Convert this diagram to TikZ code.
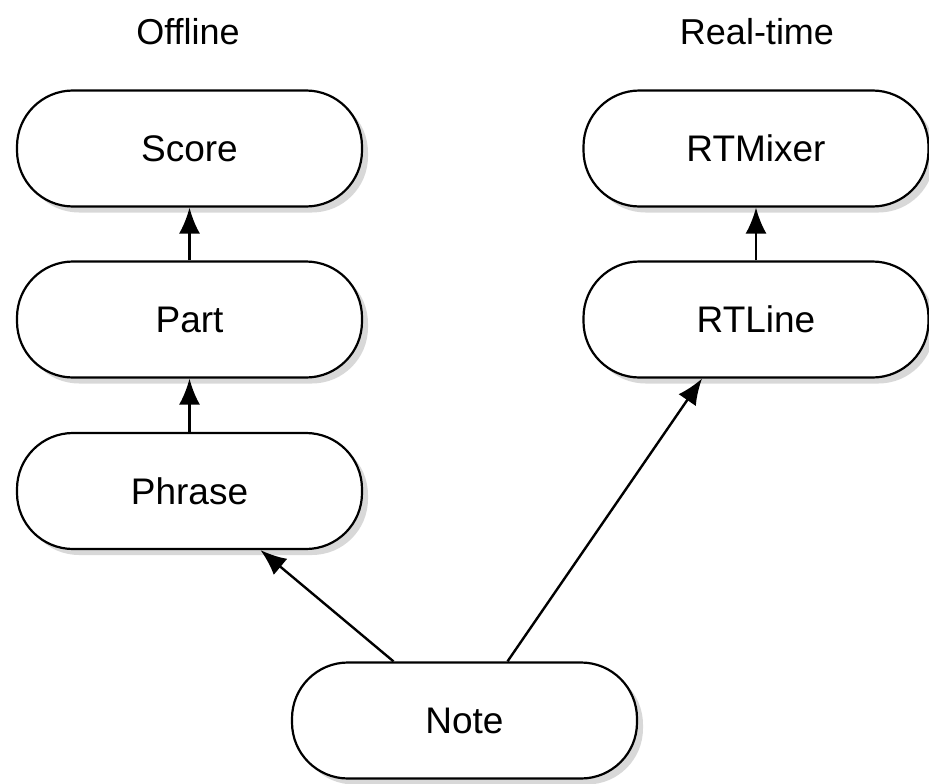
\documentclass[tikz,border=0pt]{standalone}
\usepackage{fontspec}
\setmainfont{Liberation Sans}
\usetikzlibrary{arrows.meta,shadows}
\tikzset{
  cls/.style={draw, line width=2.2pt, fill=white, rounded corners=56pt,
    minimum width=345pt, minimum height=116pt, font=\fontsize{37}{40}\selectfont,
    drop shadow={shadow xshift=6pt, shadow yshift=-6pt, fill=black!30}},
  head/.style={font=\fontsize{36}{40}\selectfont}
}
\begin{document}
\begin{tikzpicture}[x=1pt,y=-1pt]
      \useasboundingbox (0,0) rectangle (929,784);
      \node[head] (offline) at (188,32) {Offline};
      \node[head] (realtime) at (757,32) {Real-time};
      \node[cls] (score) at (189.5,148.5) {Score};
      \node[cls] (part) at (189.5,319.5) {Part};
      \node[cls] (phrase) at (189.5,491) {Phrase};
      \node[cls] (rtmixer) at (756,148.5) {RTMixer};
      \node[cls] (rtline) at (756,319.5) {RTLine};
      \node[cls] (note) at (464.5,720.5) {Note};
      \begin{scope}[line width=2.4pt, -{Latex[length=26pt,width=21pt]}]
        \draw (part) to (score);
        \draw (phrase) to (part);
        \draw (rtline) to (rtmixer);
        \draw ([xshift=-71pt]note.north) to ([xshift=71pt]phrase.south);
        \draw ([xshift=43pt]note.north) to ([xshift=-54pt]rtline.south);
      \end{scope}
    \end{tikzpicture}
\end{document}
